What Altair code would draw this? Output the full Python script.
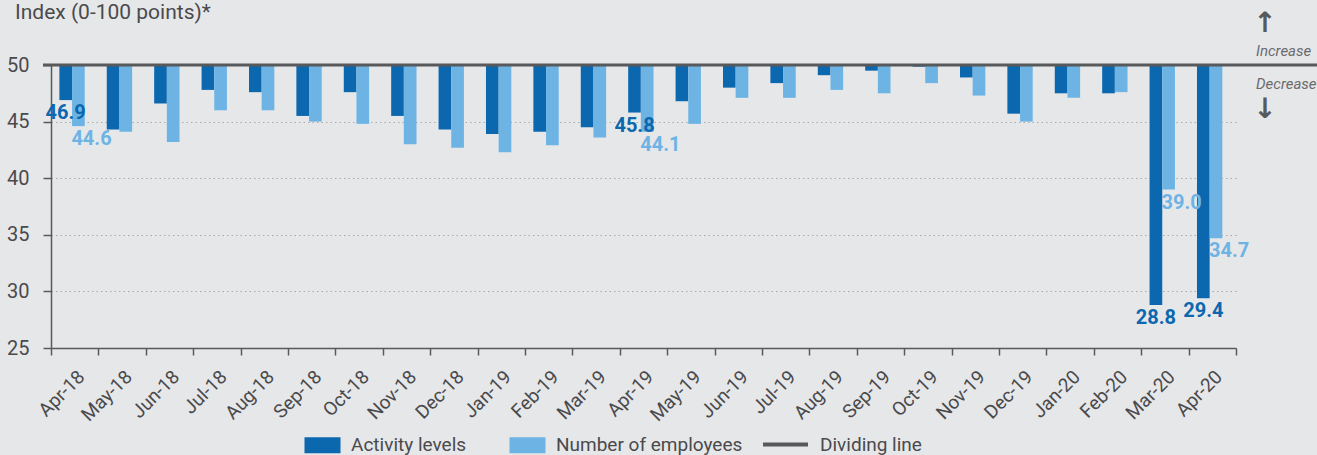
import altair as alt
import pandas as pd

months = ["Apr-18", "May-18", "Jun-18", "Jul-18", "Aug-18", "Sep-18", "Oct-18", "Nov-18",
          "Dec-18", "Jan-19", "Feb-19", "Mar-19", "Apr-19", "May-19", "Jun-19", "Jul-19",
          "Aug-19", "Sep-19", "Oct-19", "Nov-19", "Dec-19", "Jan-20", "Feb-20", "Mar-20", "Apr-20"]
activity = [46.9, 44.3, 46.6, 47.8, 47.6, 45.5, 47.6, 45.5, 44.3, 43.9, 44.1, 44.5, 45.8,
            46.8, 48.0, 48.4, 49.1, 49.5, 49.85, 48.9, 45.7, 47.5, 47.5, 28.8, 29.4]
employees = [44.6, 44.1, 43.2, 46.0, 46.0, 45.0, 44.8, 43.0, 42.7, 42.3, 42.9, 43.6, 44.1,
             44.8, 47.1, 47.1, 47.8, 47.5, 48.4, 47.3, 45.0, 47.1, 47.6, 39.0, 34.7]
labelled_months = ["Apr-18", "Apr-19", "Mar-20", "Apr-20"]
series_names = ["Activity levels", "Number of employees"]
series_colors = ["#0b67ae", "#6db4e5"]
divider_name = "Dividing line"
divider_value = 50
y_ticks = [25, 30, 35, 40, 45, 50]
title_text = "Index (0-100 points)*"

FONT = "Roboto, sans-serif"
GREY = "#58595b"
TEXT = "#4a4a4c"

rows = []
for m, a, e in zip(months, activity, employees):
    rows.append({"month": m, "series": series_names[0], "value": a,
                 "base": divider_value, "lab": m in labelled_months})
    rows.append({"month": m, "series": series_names[1], "value": e,
                 "base": divider_value, "lab": m in labelled_months})
df = pd.DataFrame(rows)

W, H = 1185, 283

x_enc = alt.X("month:N", sort=months,
              scale=alt.Scale(paddingInner=0, paddingOuter=0),
              axis=alt.Axis(title=None, labelAngle=-45, tickBand="extent",
                            labelFontSize=19, labelColor=TEXT, labelFont=FONT,
                            labelBaseline="top", labelAlign="right",
                            tickSize=7, tickColor=GREY, domainColor=GREY,
                            domainWidth=1.5, tickWidth=1.5, labelPadding=12, grid=False))
xo_enc = alt.XOffset("series:N", sort=series_names,
                     scale=alt.Scale(domain=series_names, paddingInner=0,
                                     paddingOuter=0.87, align=0.38))
y_scale = alt.Scale(domain=[25, 50], nice=False, zero=False)
y_axis = alt.Axis(title=None, values=y_ticks, labelFontSize=20, labelColor=TEXT,
                  labelFont=FONT, tickSize=8, tickColor=GREY, tickWidth=1.5,
                  domainColor=GREY, domainWidth=1.5, labelPadding=14,
                  grid=True, gridColor="#a9aaac", gridDash=[1.5, 3], gridWidth=1.2)

bars = alt.Chart(df).mark_bar().encode(
    x=x_enc,
    xOffset=xo_enc,
    y=alt.Y("value:Q", scale=y_scale, axis=y_axis),
    y2="base:Q",
    color=alt.Color("series:N", sort=series_names,
                    scale=alt.Scale(domain=series_names, range=series_colors),
                    legend=alt.Legend(orient="none", legendX=262, legendY=370.5,
                                      direction="horizontal", title=None,
                                      symbolType="M-2.25,-1H2.25V1H-2.25Z",
                                      symbolSize=256, symbolStrokeWidth=0,
                                      symbolOpacity=1, labelLimit=0,
                                      labelFontSize=19, labelFont=FONT,
                                      labelColor=TEXT, labelOffset=19,
                                      columnPadding=42, padding=0)),
)

dark_labels = alt.Chart(df).transform_filter(
    (alt.datum.lab == True) & (alt.datum.series == series_names[0])
).mark_text(baseline="top", dy=3, fontWeight="bold", fontSize=20, font=FONT,
            color=series_colors[0]).encode(
    x=x_enc, xOffset=xo_enc,
    y=alt.Y("value:Q", scale=y_scale, axis=y_axis),
    text=alt.Text("value:Q", format=".1f"),
)

light_labels = alt.Chart(df).transform_filter(
    (alt.datum.lab == True) & (alt.datum.series == series_names[1])
).mark_text(baseline="top", align="left", dx=-7, dy=3, fontWeight="bold",
            fontSize=20, font=FONT, color=series_colors[1]).encode(
    x=x_enc, xOffset=xo_enc,
    y=alt.Y("value:Q", scale=y_scale, axis=y_axis),
    text=alt.Text("value:Q", format=".1f"),
)

rule = alt.Chart(pd.DataFrame({"name": [divider_name], "v": [divider_value]})).mark_rule(
    strokeWidth=3).encode(
    y=alt.Y("v:Q", scale=y_scale, axis=y_axis),
    x=alt.value(-8), x2=alt.value(W + 81),
    stroke=alt.Stroke("name:N", scale=alt.Scale(domain=[divider_name], range=[GREY]),
                      legend=alt.Legend(orient="none", legendX=710, legendY=355,
                                        title=None, symbolType="stroke",
                                        symbolSize=2025, symbolStrokeWidth=4,
                                        labelFontSize=19, labelFont=FONT, labelLimit=0,
                                        labelColor=TEXT, labelOffset=10, padding=0)),
)


def note(text, xpx, ypx, **kw):
    return alt.Chart(pd.DataFrame({"t": [text]})).mark_text(**kw).encode(
        text="t:N", x=alt.value(xpx), y=alt.value(ypx))


title = note(title_text, -36, -46, align="left", baseline="alphabetic",
             fontSize=21, font=FONT, color=TEXT)
inc = note("Increase", 1205, -9, align="left", baseline="alphabetic", fontSize=15,
           font=FONT, fontStyle="italic", color="#6a6b6d")
dec = note("Decrease", 1205, 24, align="left", baseline="alphabetic", fontSize=15,
           font=FONT, fontStyle="italic", color="#6a6b6d")
up = note("↑", 1214, -41, align="center", baseline="middle", fontSize=28,
          font="DejaVu Sans", fontWeight="bold", color=GREY)
down = note("↓", 1214, 45, align="center", baseline="middle", fontSize=28,
            font="DejaVu Sans", fontWeight="bold", color=GREY)

chart = alt.layer(bars, dark_labels, light_labels, rule, title, inc, dec, up, down).properties(
    width=W, height=H,
    background="#e6e7e9",
    padding={"left": 51, "top": 65, "right": 81, "bottom": 107},
    autosize=alt.AutoSizeParams(type="none"),
).resolve_legend(color="independent", stroke="independent").configure_view(stroke=None)

chart.save("out.html", embed_options={"renderer": "svg", "actions": False})
